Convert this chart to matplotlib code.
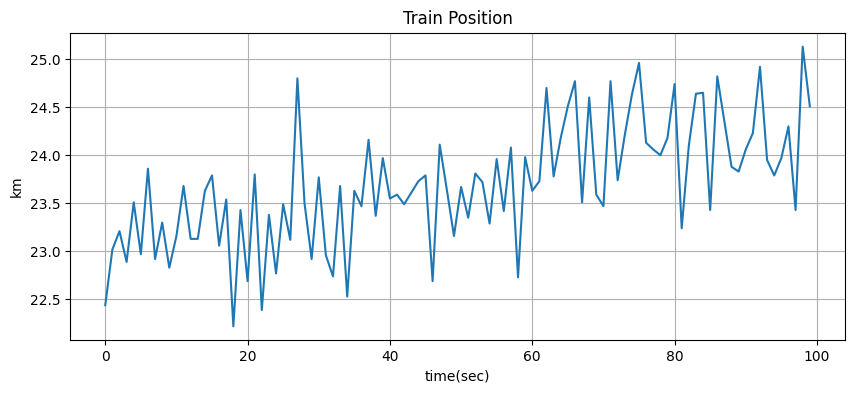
import numpy as np
import matplotlib
matplotlib.use("Agg")
import matplotlib.pyplot as plt

# time axis, one sample per second
t = np.arange(100)

# train position in km
km = [
 22.44, 23.02, 23.21, 22.89, 23.51, 22.97, 23.86, 22.92, 23.30, 22.83,
 23.16, 23.68, 23.13, 23.13, 23.63, 23.79, 23.06, 23.54, 22.22, 23.43,
 22.69, 23.80, 22.39, 23.38, 22.77, 23.49, 23.12, 24.80, 23.50, 22.92,
 23.77, 22.96, 22.74, 23.68, 22.53, 23.63, 23.47, 24.16, 23.37, 23.97,
 23.55, 23.59, 23.49, 23.61, 23.73, 23.79, 22.69, 24.11, 23.64, 23.16,
 23.67, 23.35, 23.81, 23.72, 23.29, 23.96, 23.42, 24.08, 22.73, 23.98,
 23.63, 23.73, 24.70, 23.78, 24.18, 24.51, 24.77, 23.51, 24.60, 23.59,
 23.47, 24.77, 23.74, 24.21, 24.63, 24.96, 24.13, 24.06, 24.00, 24.18,
 24.74, 23.24, 24.10, 24.64, 24.65, 23.43, 24.82, 24.35, 23.88, 23.83,
 24.06, 24.23, 24.92, 23.95, 23.79, 23.97, 24.30, 23.43, 25.13, 24.51,
]

fig = plt.figure(figsize=(8.54, 3.93), dpi=100)
ax = fig.add_subplot(1, 1, 1)
plt.subplots_adjust(left=0.082, right=0.9895, top=0.917, bottom=0.134)

ax.plot(t, km)
ax.grid(True)
plt.title('Train Position')
plt.xlabel('time(sec)')
plt.ylabel('km')

plt.savefig('out.png', dpi=100)
